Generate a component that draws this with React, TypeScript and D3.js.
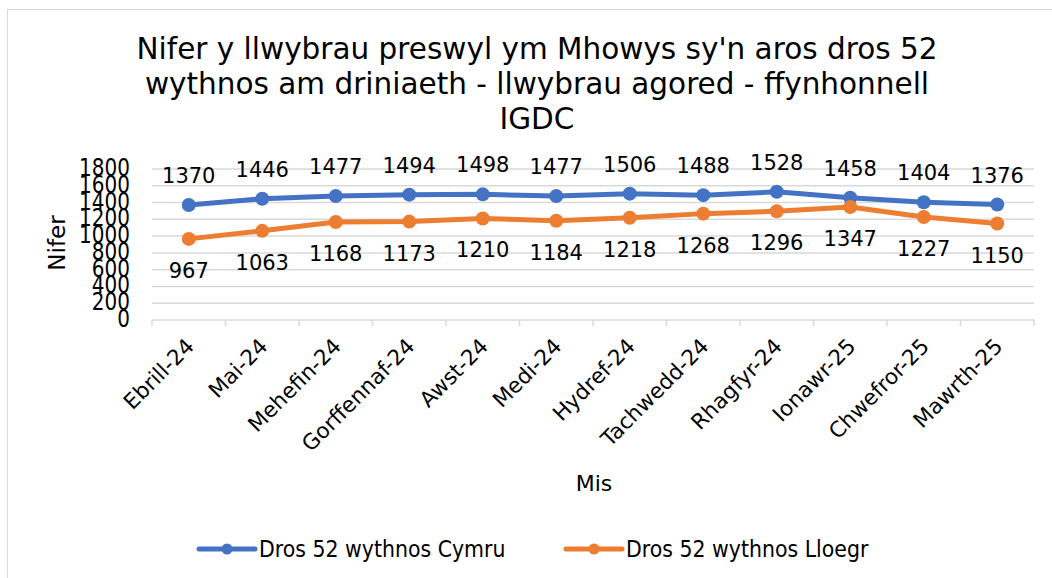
import React from "react";
import * as d3 from "d3";

const months = ["Ebrill-24","Mai-24","Mehefin-24","Gorffennaf-24","Awst-24","Medi-24","Hydref-24","Tachwedd-24","Rhagfyr-24","Ionawr-25","Chwefror-25","Mawrth-25"];
const cymru = [1370,1446,1477,1494,1498,1477,1506,1488,1528,1458,1404,1376];
const lloegr = [967,1063,1168,1173,1210,1184,1218,1268,1296,1347,1227,1150];
const yTicks = [0,200,400,600,800,1000,1200,1400,1600,1800];
const seriesNames = ["Dros 52 wythnos Cymru","Dros 52 wythnos Lloegr"];
const colors = ["#4472C4","#ED7D31"];
const titleLines = ["Nifer y llwybrau preswyl ym Mhowys sy'n aros dros 52","wythnos am driniaeth - llwybrau agored - ffynhonnell","IGDC"];

const FONT = "Verdana, DejaVu Sans, sans-serif";

export default function App() {
  const W = 1052, H = 578;
  const x = d3.scaleBand<string>().domain(months).range([152, 1034]);
  const y = d3.scaleLinear().domain([0, 1800]).range([320, 169]);
  const cx = (m: string) => (x(m) as number) + x.bandwidth() / 2;
  const line = d3.line<number>().x((_, i) => cx(months[i])).y(d => y(d));
  const data = [cymru, lloegr];
  const legendX = [199, 566];
  return (
    <svg width={W} height={H} style={{ position: "absolute", left: 0, top: 0, fontFamily: FONT }}>
      <rect x={0} y={0} width={W} height={H} fill="#fff" />
      <rect x={7.5} y={9.5} width={1060} height={600} fill="#fff" stroke="#d9d9d9" strokeWidth={1} />
      {titleLines.map((t, i) => (
        <text key={i} x={537} y={59 + i * 35} textAnchor="middle" fontSize={29.5} fill="#000">{t}</text>
      ))}
      {yTicks.map(t => (
        <g key={t}>
          {t > 0 && <line x1={152} x2={1034} y1={y(t)} y2={y(t)} stroke="#d9d9d9" strokeWidth={1.5} />}
          <text transform={`translate(130,${y(t) + 7}) scale(1,1.22)`} textAnchor="end" fontSize={20} fill="#000">{t}</text>
        </g>
      ))}
      <line x1={152} x2={1034} y1={y(0)} y2={y(0)} stroke="#d9d9d9" strokeWidth={1.5} />
      {months.map((m, i) => (
        <line key={"tk" + i} x1={x(m) as number} x2={x(m) as number} y1={y(0)} y2={y(0) + 6} stroke="#d9d9d9" strokeWidth={1.5} />
      ))}
      <line x1={1034} x2={1034} y1={y(0)} y2={y(0) + 6} stroke="#d9d9d9" strokeWidth={1.5} />
      {months.map((m, i) => (
        <text key={"xl" + i} transform={`translate(${cx(m) - 4},${y(0) + 17}) rotate(-45)`} textAnchor="end" dy="0.7em" fontSize={21.5} fill="#000">{m}</text>
      ))}
      {data.map((s, si) => (
        <g key={"s" + si}>
          <path d={line(s) as string} fill="none" stroke={colors[si]} strokeWidth={5} strokeLinejoin="round" />
          {s.map((v, i) => (
            <circle key={i} cx={cx(months[i])} cy={y(v)} r={7} fill={colors[si]} />
          ))}
          {s.map((v, i) => (
            <text key={"l" + i} x={cx(months[i])} y={si === 0 ? y(v) - 22 : y(v) + 39} textAnchor="middle" fontSize={21} fill="#000">{v}</text>
          ))}
        </g>
      ))}
      <text transform={`translate(65,243) rotate(-90)`} textAnchor="middle" fontSize={23} fill="#000">Nifer</text>
      <text x={594} y={491} textAnchor="middle" fontSize={22} fill="#000">Mis</text>
      {seriesNames.map((n, i) => {
        const lx = legendX[i];
        return (
          <g key={"lg" + i}>
            <line x1={lx} x2={lx + 56} y1={549} y2={549} stroke={colors[i]} strokeWidth={5} strokeLinecap="round" />
            <circle cx={lx + 28} cy={549} r={5.5} fill={colors[i]} />
            <text transform={`translate(${lx + 60},557) scale(1,1.12)`} fontSize={20.5} fill="#000">{n}</text>
          </g>
        );
      })}
    </svg>
  );
}
